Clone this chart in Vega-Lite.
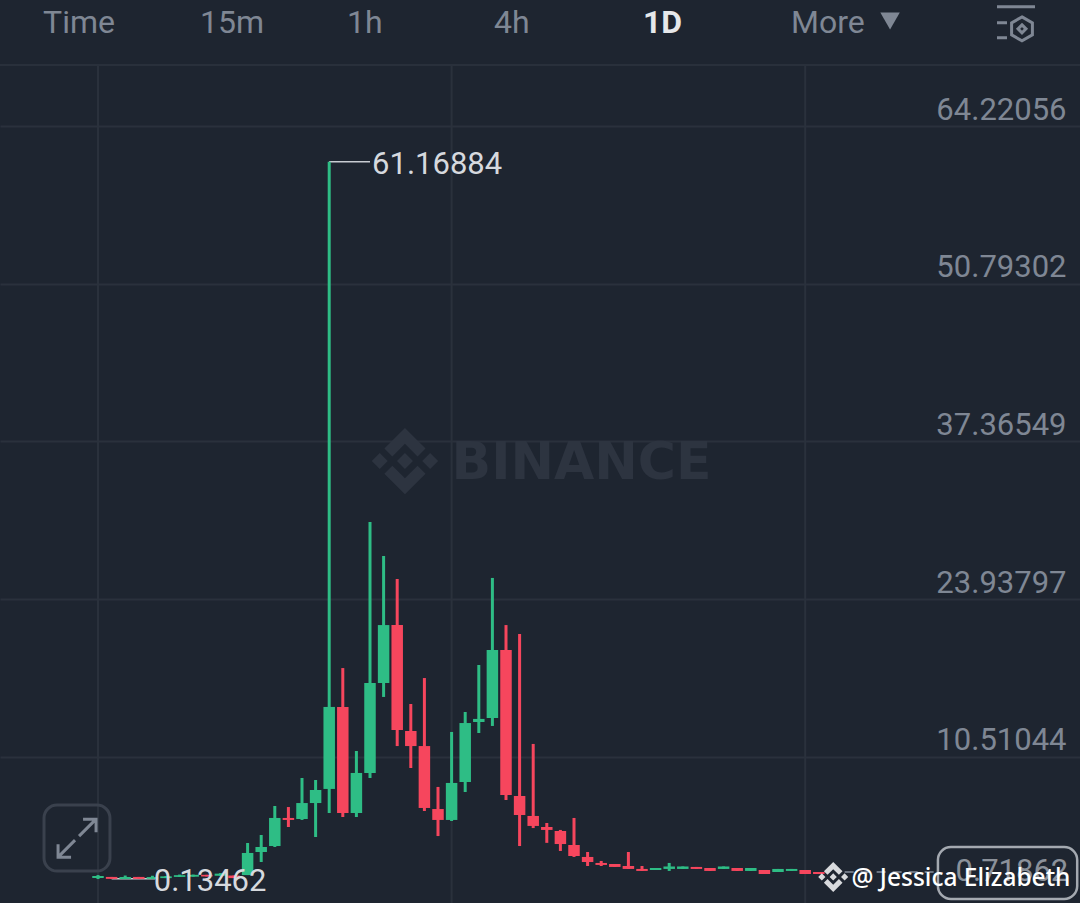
{"$schema":"https://vega.github.io/schema/vega-lite/v6.json","width":1080,"height":903,"autosize":"none","padding":0,"background":"#1e2530","config":{"view":{"stroke":null},"text":{"font":"Roboto"},"scale":{"continuousPadding":0}},
"datasets":{"candles":[
{"day":0,"open":0.21,"close":0.38,"high":0.46,"low":0.12,"dir":"up"},
{"day":1,"open":0.3,"close":0.135,"high":0.3,"low":0.135,"dir":"down"},
{"day":2,"open":0.12,"close":0.29,"high":0.42,"low":0.12,"dir":"up"},
{"day":3,"open":0.3,"close":0.135,"high":0.3,"low":0.135,"dir":"down"},
{"day":4,"open":0.14,"close":0.29,"high":0.4,"low":0.14,"dir":"up"},
{"day":5,"open":0.2,"close":0.35,"high":0.38,"low":0.2,"dir":"up"},
{"day":6,"open":0.3,"close":0.45,"high":0.5,"low":0.3,"dir":"up"},
{"day":7,"open":0.32,"close":0.48,"high":0.5,"low":0.32,"dir":"up"},
{"day":8,"open":0.48,"close":0.34,"high":0.48,"low":0.34,"dir":"down"},
{"day":9,"open":0.4,"close":0.58,"high":0.62,"low":0.4,"dir":"up"},
{"day":10,"open":0.42,"close":0.2,"high":0.42,"low":0.2,"dir":"down"},
{"day":11,"open":0.46,"close":2.34,"high":3.19,"low":0.46,"dir":"up"},
{"day":12,"open":2.42,"close":2.85,"high":3.87,"low":1.57,"dir":"up"},
{"day":13,"open":2.93,"close":5.32,"high":6.34,"low":2.85,"dir":"up"},
{"day":14,"open":5.32,"close":5.15,"high":6.25,"low":4.55,"dir":"down"},
{"day":15,"open":5.23,"close":6.59,"high":8.72,"low":5.15,"dir":"up"},
{"day":16,"open":6.59,"close":7.7,"high":8.55,"low":3.7,"dir":"up"},
{"day":17,"open":7.79,"close":14.77,"high":61.16884,"low":5.74,"dir":"up"},
{"day":18,"open":14.77,"close":5.74,"high":18.08,"low":5.4,"dir":"down"},
{"day":19,"open":5.74,"close":9.15,"high":11.02,"low":5.4,"dir":"up"},
{"day":20,"open":9.15,"close":16.81,"high":30.51,"low":8.72,"dir":"up"},
{"day":21,"open":16.81,"close":21.74,"high":27.62,"low":15.62,"dir":"up"},
{"day":22,"open":21.74,"close":12.81,"high":25.66,"low":11.44,"dir":"down"},
{"day":23,"open":12.72,"close":11.44,"high":15.02,"low":9.57,"dir":"down"},
{"day":24,"open":11.44,"close":6.17,"high":17.23,"low":5.91,"dir":"down"},
{"day":25,"open":6.08,"close":5.15,"high":7.96,"low":3.78,"dir":"down"},
{"day":26,"open":5.15,"close":8.3,"high":12.64,"low":5.06,"dir":"up"},
{"day":27,"open":8.38,"close":13.4,"high":14.34,"low":7.53,"dir":"up"},
{"day":28,"open":13.49,"close":13.75,"high":18.34,"low":12.55,"dir":"up"},
{"day":29,"open":13.83,"close":19.62,"high":25.75,"low":13.15,"dir":"up"},
{"day":30,"open":19.62,"close":7.27,"high":21.74,"low":6.85,"dir":"down"},
{"day":31,"open":7.19,"close":5.57,"high":20.98,"low":2.93,"dir":"down"},
{"day":32,"open":5.49,"close":4.64,"high":11.62,"low":4.46,"dir":"down"},
{"day":33,"open":4.55,"close":4.3,"high":4.89,"low":3.2,"dir":"down"},
{"day":34,"open":4.21,"close":3.1,"high":4.3,"low":2.51,"dir":"down"},
{"day":35,"open":3.02,"close":2.08,"high":5.32,"low":2.0,"dir":"down"},
{"day":36,"open":2.0,"close":1.57,"high":2.42,"low":1.23,"dir":"down"},
{"day":37,"open":1.49,"close":1.32,"high":1.66,"low":1.23,"dir":"down"},
{"day":38,"open":1.4,"close":1.15,"high":1.4,"low":1.15,"dir":"down"},
{"day":39,"open":1.23,"close":0.98,"high":2.42,"low":0.98,"dir":"down"},
{"day":40,"open":0.98,"close":0.81,"high":1.23,"low":0.81,"dir":"down"},
{"day":41,"open":0.89,"close":1.06,"high":1.06,"low":0.89,"dir":"up"},
{"day":42,"open":0.98,"close":1.19,"high":1.49,"low":0.81,"dir":"up"},
{"day":43,"open":0.98,"close":1.19,"high":1.19,"low":0.98,"dir":"up"},
{"day":44,"open":1.15,"close":0.98,"high":1.15,"low":0.98,"dir":"down"},
{"day":45,"open":1.06,"close":0.81,"high":1.06,"low":0.81,"dir":"down"},
{"day":46,"open":0.98,"close":1.19,"high":1.19,"low":0.98,"dir":"up"},
{"day":47,"open":1.06,"close":0.81,"high":1.06,"low":0.81,"dir":"down"},
{"day":48,"open":0.81,"close":1.06,"high":1.06,"low":0.81,"dir":"up"},
{"day":49,"open":0.89,"close":0.55,"high":0.89,"low":0.55,"dir":"down"},
{"day":50,"open":0.72,"close":0.98,"high":0.98,"low":0.72,"dir":"up"},
{"day":51,"open":0.81,"close":0.98,"high":0.98,"low":0.81,"dir":"up"},
{"day":52,"open":0.89,"close":0.55,"high":0.89,"low":0.55,"dir":"down"},
{"day":53,"open":0.72,"close":0.55,"high":0.72,"low":0.55,"dir":"down"}
],
"vgrid":[{"day":0,"top":69.41,"bottom":-1.92},{"day":26,"top":69.41,"bottom":-1.92},{"day":52,"top":69.41,"bottom":-1.92}],
"header":[{"label":"Time","day":-4.04,"price":73.1},{"label":"15m","day":7.5,"price":73.1},{"label":"1h","day":18.31,"price":73.1},{"label":"4h","day":29.12,"price":73.1},{"label":"More","day":50.96,"price":73.1}],
"active":[{"label":"1D","day":40.07,"price":73.1}],
"extremes":[{"label":"61.16884","from":17,"to":20,"labelDay":20.15,"price":61.16884},{"label":"0.13462","from":1,"to":4.2,"labelDay":4.1,"price":0.13462}],
"watermark":[{"label":"BINANCE","day":26,"price":35.7}],
"logo":[{"day":22.57,"price":35.7}],
"credit":[{"label":"@ Jessica Elizabeth","day":55.4,"price":0.2}],
"creditLogo":[{"day":54.06,"price":0.3}],
"last":[{"label":"0.71862","day":67.2,"price":0.71862,"from":54.9,"to":61.76,"top":2.85,"bottom":-1.57,"right":72.0}],
"expand":[{"day":-1.54,"price":3.6,"from":-3.97,"to":0.88,"top":6.42,"bottom":0.805}],
"more":[{"day":58.24,"price":73.16}],
"settings":[{"day":67.5,"price":73.0}],
"headerLine":[{"from":-7.206,"to":72.206,"price":69.41}]},
"layer":[
{"data":{"name":"candles"},"mark":{"type":"rule","opacity":0},"encoding":{"x":{"field":"day","type":"quantitative","axis":null,"scale":{"domain":[-7.206,72.206],"nice":false,"zero":false,"padding":0}},"y":{"field":"close","type":"quantitative","title":null,"scale":{"domain":[-1.919,74.946],"nice":false,"zero":false},"axis":{"orient":"right","values":[64.22056,50.79302,37.36549,23.93797,10.51044],"format":".5f","grid":true,"gridColor":"#2a313c","gridWidth":2,"domain":false,"ticks":false,"labelAlign":"right","labelBaseline":"middle","labelPadding":-14,"labelOffset":-16,"labelFont":"Roboto","labelFontSize":31,"labelColor":"#7f8794","labelBound":false,"labelFlush":false,"labelOverlap":false,"title":null}}}},
{"data":{"name":"vgrid"},"mark":{"type":"rule","color":"#2a313c","strokeWidth":2},"encoding":{"x":{"field":"day","type":"quantitative","scale":{"domain":[-7.206,72.206],"nice":false,"zero":false,"padding":0}},"y":{"field":"top","type":"quantitative","scale":{"domain":[-1.919,74.946],"nice":false,"zero":false}},"y2":{"field":"bottom"}}},
{"data":{"name":"headerLine"},"mark":{"type":"rule","color":"#29303b","strokeWidth":2},"encoding":{"x":{"field":"from","type":"quantitative"},"x2":{"field":"to"},"y":{"field":"price","type":"quantitative"}}},
{"data":{"name":"logo"},"mark":{"type":"point","filled":true,"color":"#2d3440","opacity":1,"size":4400,"shape":"M0 -1 L0.62 -0.38 L0.38 -0.14 L0 -0.52 L-0.38 -0.14 L-0.62 -0.38 Z M0 1 L0.62 0.38 L0.38 0.14 L0 0.52 L-0.38 0.14 L-0.62 0.38 Z M0 -0.24 L0.24 0 L0 0.24 L-0.24 0 Z M-0.76 -0.24 L-0.52 0 L-0.76 0.24 L-1 0 Z M0.76 -0.24 L1 0 L0.76 0.24 L0.52 0 Z"},"encoding":{"x":{"field":"day","type":"quantitative"},"y":{"field":"price","type":"quantitative"}}},
{"data":{"name":"watermark"},"mark":{"type":"text","align":"left","baseline":"middle","dy":2,"font":"DejaVu Sans","fontWeight":"bold","fontSize":52,"color":"#2d3440"},"encoding":{"x":{"field":"day","type":"quantitative"},"y":{"field":"price","type":"quantitative"},"text":{"field":"label"}}},
{"data":{"name":"last"},"mark":{"type":"rule","color":"#6b7380","strokeWidth":2,"strokeDash":[9,7]},"encoding":{"x":{"field":"from","type":"quantitative"},"x2":{"field":"to"},"y":{"field":"price","type":"quantitative"}}},
{"data":{"name":"extremes"},"mark":{"type":"rule","color":"#c8ccd2","strokeWidth":1.5},"encoding":{"x":{"field":"from","type":"quantitative"},"x2":{"field":"to"},"y":{"field":"price","type":"quantitative"}}},
{"data":{"name":"candles"},"mark":{"type":"rule","strokeWidth":3},"encoding":{"x":{"field":"day","type":"quantitative"},"y":{"field":"high","type":"quantitative"},"y2":{"field":"low"},"color":{"field":"dir","type":"nominal","legend":null,"scale":{"domain":["up","down"],"range":["#2ebd85","#f6465d"]}}}},
{"data":{"name":"candles"},"mark":{"type":"bar","size":11.5,"orient":"vertical"},"encoding":{"x":{"field":"day","type":"quantitative"},"y":{"field":"open","type":"quantitative"},"y2":{"field":"close"},"color":{"field":"dir","type":"nominal","legend":null,"scale":{"domain":["up","down"],"range":["#2ebd85","#f6465d"]}}}},
{"data":{"name":"extremes"},"mark":{"type":"text","align":"left","baseline":"middle","dy":3,"fontSize":31,"font":"Roboto","color":"#d6d9de"},"encoding":{"x":{"field":"labelDay","type":"quantitative"},"y":{"field":"price","type":"quantitative"},"text":{"field":"label"}}},
{"data":{"name":"header"},"mark":{"type":"text","align":"left","baseline":"middle","dy":1,"fontSize":32,"font":"Roboto","color":"#7f8794"},"encoding":{"x":{"field":"day","type":"quantitative"},"y":{"field":"price","type":"quantitative"},"text":{"field":"label"}}},
{"data":{"name":"active"},"mark":{"type":"text","align":"left","baseline":"middle","dy":1,"fontSize":32,"font":"Roboto","fontWeight":"bold","color":"#e6e8ea"},"encoding":{"x":{"field":"day","type":"quantitative"},"y":{"field":"price","type":"quantitative"},"text":{"field":"label"}}},
{"data":{"name":"more"},"mark":{"type":"point","shape":"triangle-down","filled":true,"opacity":1,"color":"#7f8794","size":380},"encoding":{"x":{"field":"day","type":"quantitative"},"y":{"field":"price","type":"quantitative"}}},
{"data":{"name":"settings"},"mark":{"type":"point","opacity":1,"filled":false,"color":"#7f8794","strokeWidth":3,"size":1600,"shape":"M-0.95 -0.8 L0.95 -0.8 M-0.95 0 L-0.45 0 M-0.95 0.75 L-0.45 0.75 M0.3 -0.3 L0.82 0 L0.82 0.6 L0.3 0.9 L-0.22 0.6 L-0.22 0 Z M0.3 0.1 L0.5 0.3 L0.3 0.5 L0.1 0.3 Z"},"encoding":{"x":{"field":"day","type":"quantitative"},"y":{"field":"price","type":"quantitative"}}},
{"data":{"name":"expand"},"mark":{"type":"rect","cornerRadius":13,"fillOpacity":0,"stroke":"#3a414d","strokeWidth":3},"encoding":{"x":{"field":"from","type":"quantitative"},"x2":{"field":"to"},"y":{"field":"top","type":"quantitative"},"y2":{"field":"bottom"}}},
{"data":{"name":"expand"},"mark":{"type":"point","opacity":1,"filled":false,"color":"#7f8794","strokeWidth":3,"size":1600,"shape":"M0.1 -0.1 L0.95 -0.95 M0.3 -0.95 L0.95 -0.95 L0.95 -0.3 M-0.1 0.1 L-0.95 0.95 M-0.3 0.95 L-0.95 0.95 L-0.95 0.3"},"encoding":{"x":{"field":"day","type":"quantitative"},"y":{"field":"price","type":"quantitative"}}},
{"data":{"name":"last"},"mark":{"type":"rect","cornerRadius":13,"fill":"#1e2530","stroke":"#a4a9b0","strokeWidth":2.5},"encoding":{"x":{"field":"to","type":"quantitative"},"x2":{"field":"right"},"y":{"field":"top","type":"quantitative"},"y2":{"field":"bottom"}}},
{"data":{"name":"last"},"mark":{"type":"text","align":"center","baseline":"middle","fontSize":31,"font":"Roboto","color":"#8b919a"},"encoding":{"x":{"field":"day","type":"quantitative"},"y":{"field":"price","type":"quantitative"},"text":{"field":"label"}}},
{"data":{"name":"creditLogo"},"mark":{"type":"point","filled":true,"opacity":1,"color":"#d8dadd","size":900,"shape":"M0 -1 L0.62 -0.38 L0.38 -0.14 L0 -0.52 L-0.38 -0.14 L-0.62 -0.38 Z M0 1 L0.62 0.38 L0.38 0.14 L0 0.52 L-0.38 0.14 L-0.62 0.38 Z M0 -0.24 L0.24 0 L0 0.24 L-0.24 0 Z M-0.76 -0.24 L-0.52 0 L-0.76 0.24 L-1 0 Z M0.76 -0.24 L1 0 L0.76 0.24 L0.52 0 Z"},"encoding":{"x":{"field":"day","type":"quantitative"},"y":{"field":"price","type":"quantitative"}}},
{"data":{"name":"credit"},"mark":{"type":"text","align":"left","baseline":"middle","dy":1,"fontSize":24.5,"font":"Noto Sans","fontWeight":500,"color":"#ffffff"},"encoding":{"x":{"field":"day","type":"quantitative"},"y":{"field":"price","type":"quantitative"},"text":{"field":"label"}}}
]}
